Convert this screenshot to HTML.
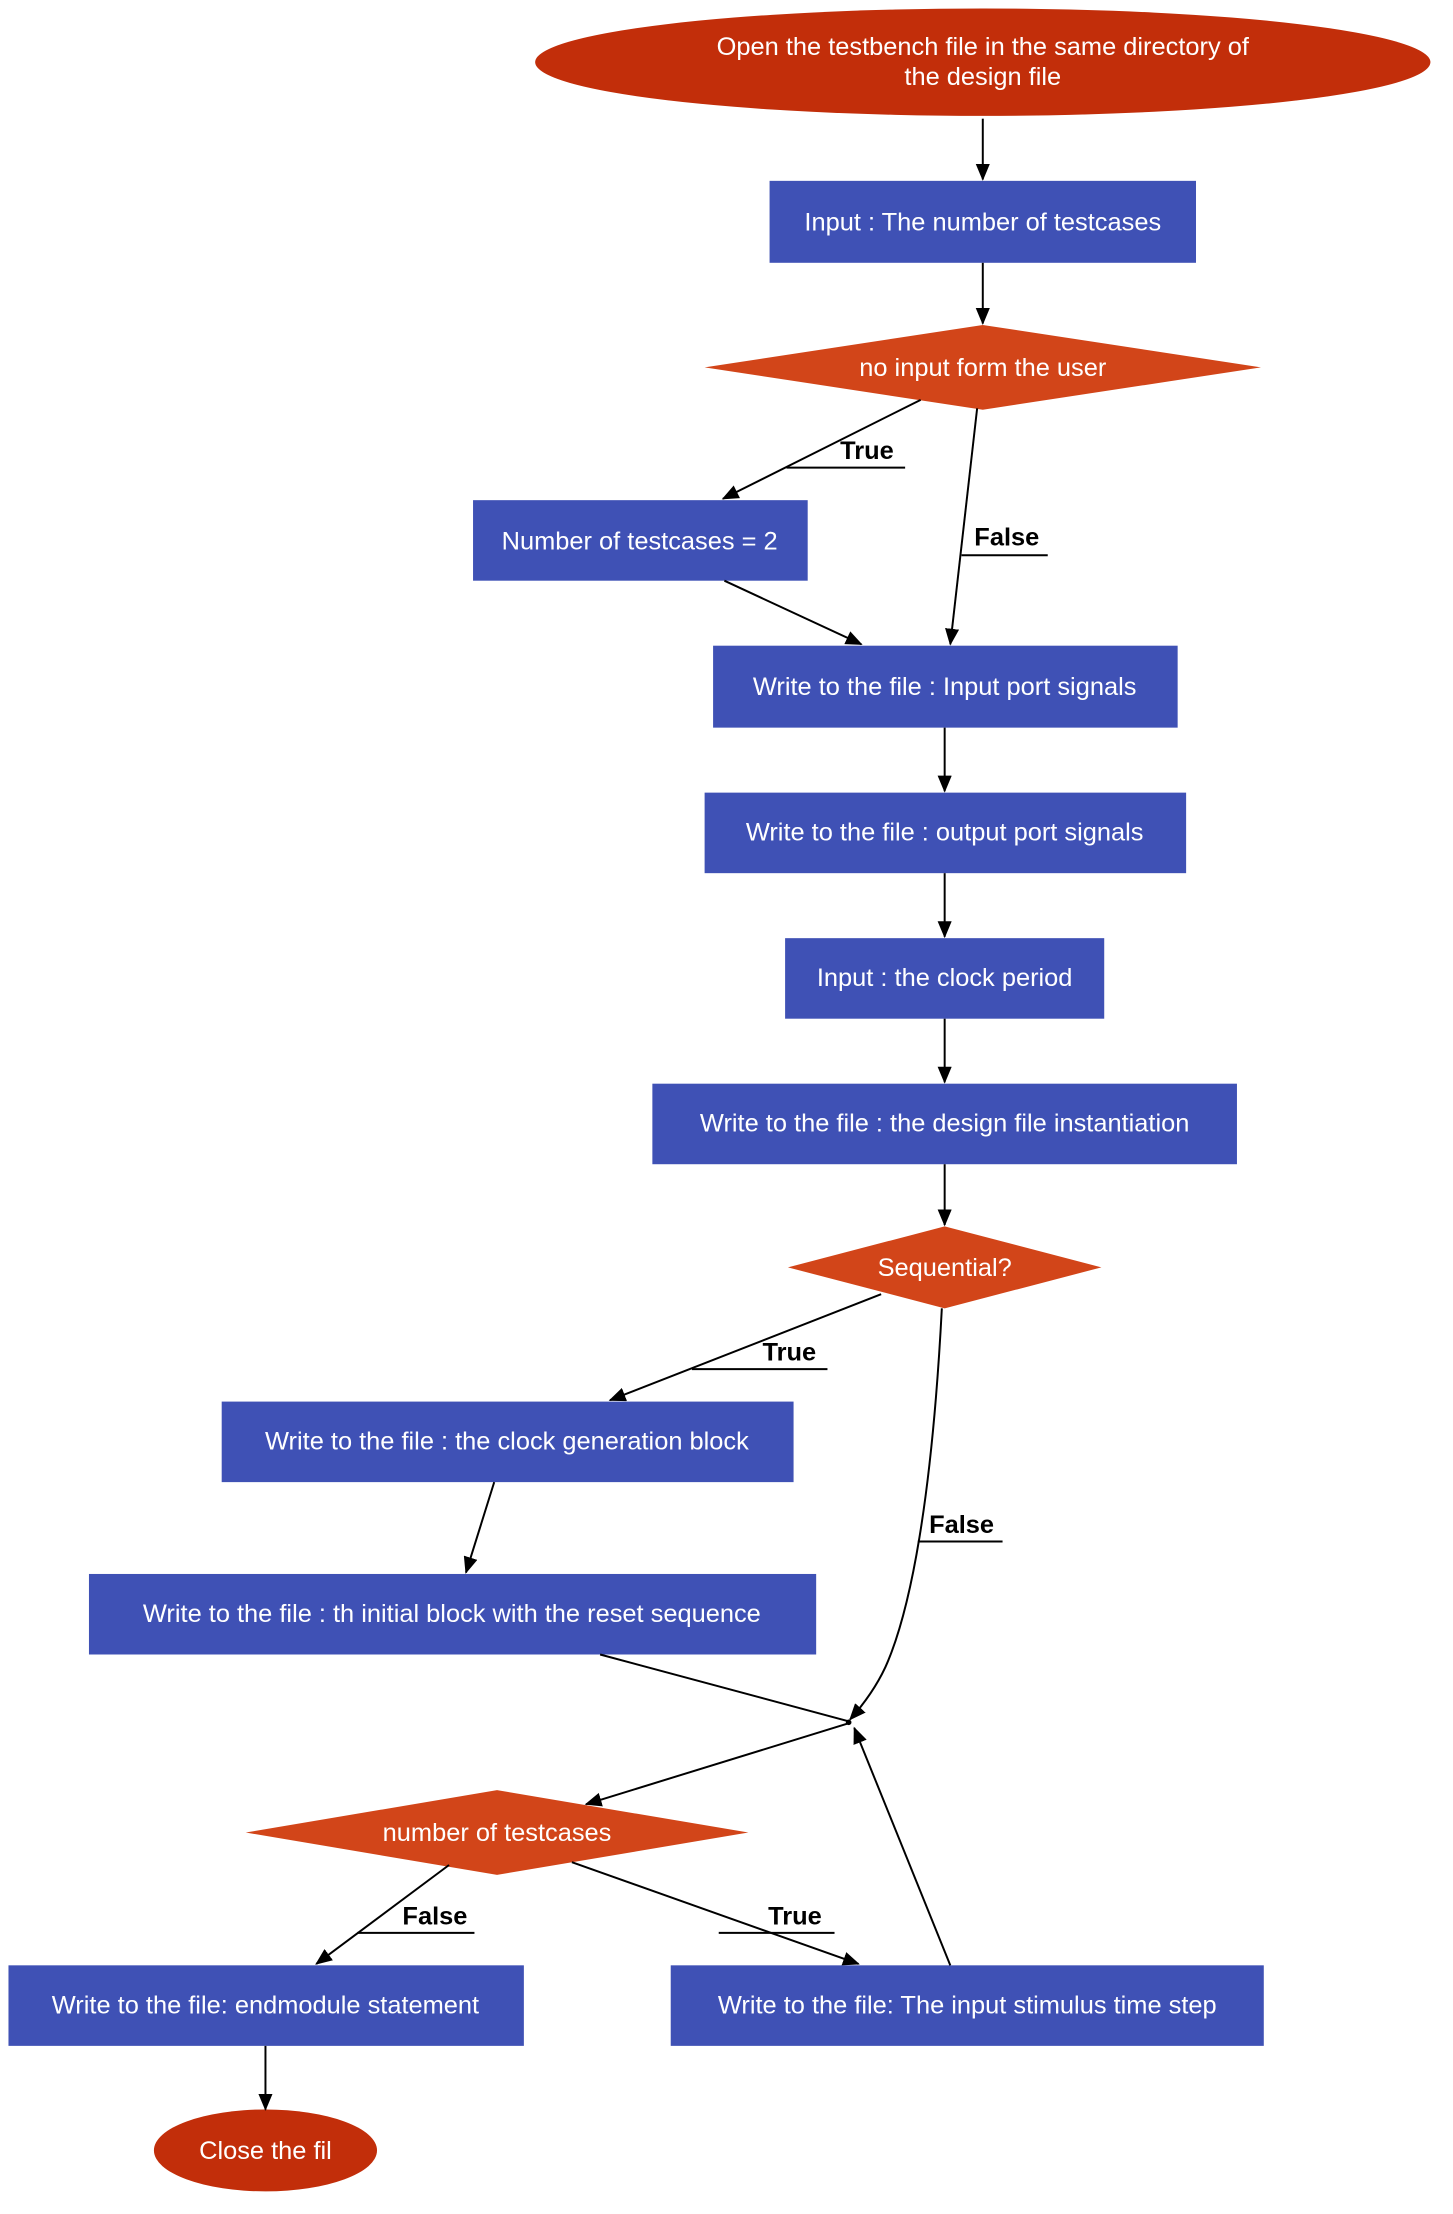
<!DOCTYPE html>
<html><head><meta charset="utf-8"><style>
html,body{margin:0;padding:0;background:#fff;}
svg{display:block;}
text{font-family:"Liberation Sans",sans-serif;}
.t{fill:#fff;font-size:18px;text-anchor:middle;}
.l{fill:#000;font-size:18px;font-weight:bold;}
.e{stroke:#000;stroke-width:1.4;fill:none;}
</style></head><body>
<svg width="1453" height="2214" viewBox="0 0 1029 1567" preserveAspectRatio="none" xmlns="http://www.w3.org/2000/svg">
<defs><marker id="a" markerWidth="12" markerHeight="10" refX="11" refY="5" orient="auto" markerUnits="userSpaceOnUse" viewBox="0 0 12 10"><path d="M0,0 L12,5 L0,10 z" fill="#000"/></marker></defs>
<rect width="1029" height="1567" fill="#fff"/>
<ellipse cx="696" cy="44" rx="317" ry="38" fill="#c22e0a"/>
<text class="t" x="696" y="39">Open the testbench file in the same directory of</text>
<text class="t" x="696" y="60">the design file</text>

<rect x="545" y="128" width="302" height="58" fill="#3f51b5"/>
<text class="t" x="696" y="163">Input : The number of testcases</text>

<polygon points="499,260 696,230 893,260 696,290" fill="#d24519"/>
<text class="t" x="696" y="266">no input form the user</text>

<rect x="335" y="354" width="237" height="57" fill="#3f51b5"/>
<text class="t" x="453" y="389">Number of testcases = 2</text>

<rect x="505" y="457" width="329" height="58" fill="#3f51b5"/>
<text class="t" x="669" y="492">Write to the file : Input port signals</text>

<rect x="499" y="561" width="341" height="57" fill="#3f51b5"/>
<text class="t" x="669" y="595">Write to the file : output port signals</text>

<rect x="556" y="664" width="226" height="57" fill="#3f51b5"/>
<text class="t" x="669" y="698">Input : the clock period</text>

<rect x="462" y="767" width="414" height="57" fill="#3f51b5"/>
<text class="t" x="669" y="801">Write to the file : the design file instantiation</text>

<polygon points="558,897 669,868 780,897 669,926" fill="#d24519"/>
<text class="t" x="669" y="903">Sequential?</text>

<rect x="157" y="992" width="405" height="57" fill="#3f51b5"/>
<text class="t" x="359" y="1026">Write to the file : the clock generation block</text>

<rect x="63" y="1114" width="515" height="57" fill="#3f51b5"/>
<text class="t" x="320" y="1148">Write to the file : th initial block with the reset sequence</text>

<circle cx="601" cy="1219" r="2" fill="#000"/>

<polygon points="174,1297 352,1267 530,1297 352,1327" fill="#d24519"/>
<text class="t" x="352" y="1303">number of testcases</text>

<rect x="6" y="1391" width="365" height="57" fill="#3f51b5"/>
<text class="t" x="188" y="1425">Write to the file: endmodule statement</text>

<rect x="475" y="1391" width="420" height="57" fill="#3f51b5"/>
<text class="t" x="685" y="1425">Write to the file: The input stimulus time step</text>

<ellipse cx="188" cy="1522" rx="79" ry="29" fill="#c22e0a"/>
<text class="t" x="188" y="1528">Close the fil</text>

<path class="e" d="M696,84 L696,127" marker-end="url(#a)"/>
<path class="e" d="M696,186 L696,229" marker-end="url(#a)"/>
<path class="e" d="M652,283 L512,353" marker-end="url(#a)"/>
<text class="l" x="595" y="325">True</text><path class="e" d="M557,331 L641,331"/>
<path class="e" d="M692,289 L673,456" marker-end="url(#a)"/>
<text class="l" x="690" y="386">False</text><path class="e" d="M681,393 L742,393"/>
<path class="e" d="M513,411 L610,456" marker-end="url(#a)"/>
<path class="e" d="M669,515 L669,560" marker-end="url(#a)"/>
<path class="e" d="M669,618 L669,663" marker-end="url(#a)"/>
<path class="e" d="M669,721 L669,766" marker-end="url(#a)"/>
<path class="e" d="M669,824 L669,867" marker-end="url(#a)"/>
<path class="e" d="M624,916 L432,991" marker-end="url(#a)"/>
<text class="l" x="540" y="963">True</text><path class="e" d="M490,969 L586,969"/>
<path class="e" d="M350,1049 L330,1113" marker-end="url(#a)"/>
<path class="e" d="M667,926 C660,1060 645,1140 627,1180 C620,1195 610,1208 602,1217" marker-end="url(#a)"/>
<text class="l" x="658" y="1085">False</text><path class="e" d="M650,1091 L710,1091"/>
<path class="e" d="M425,1171 L600,1218"/>
<path class="e" d="M600,1220 L415,1277" marker-end="url(#a)"/>
<path class="e" d="M318,1320 L224,1390" marker-end="url(#a)"/>
<text class="l" x="285" y="1362">False</text><path class="e" d="M253,1368 L336,1368"/>
<path class="e" d="M405,1318 L608,1390" marker-end="url(#a)"/>
<text class="l" x="544" y="1362">True</text><path class="e" d="M509,1368 L591,1368"/>
<path class="e" d="M673,1391 L605,1223" marker-end="url(#a)"/>
<path class="e" d="M188,1448 L188,1493" marker-end="url(#a)"/>
</svg>
</body></html>
